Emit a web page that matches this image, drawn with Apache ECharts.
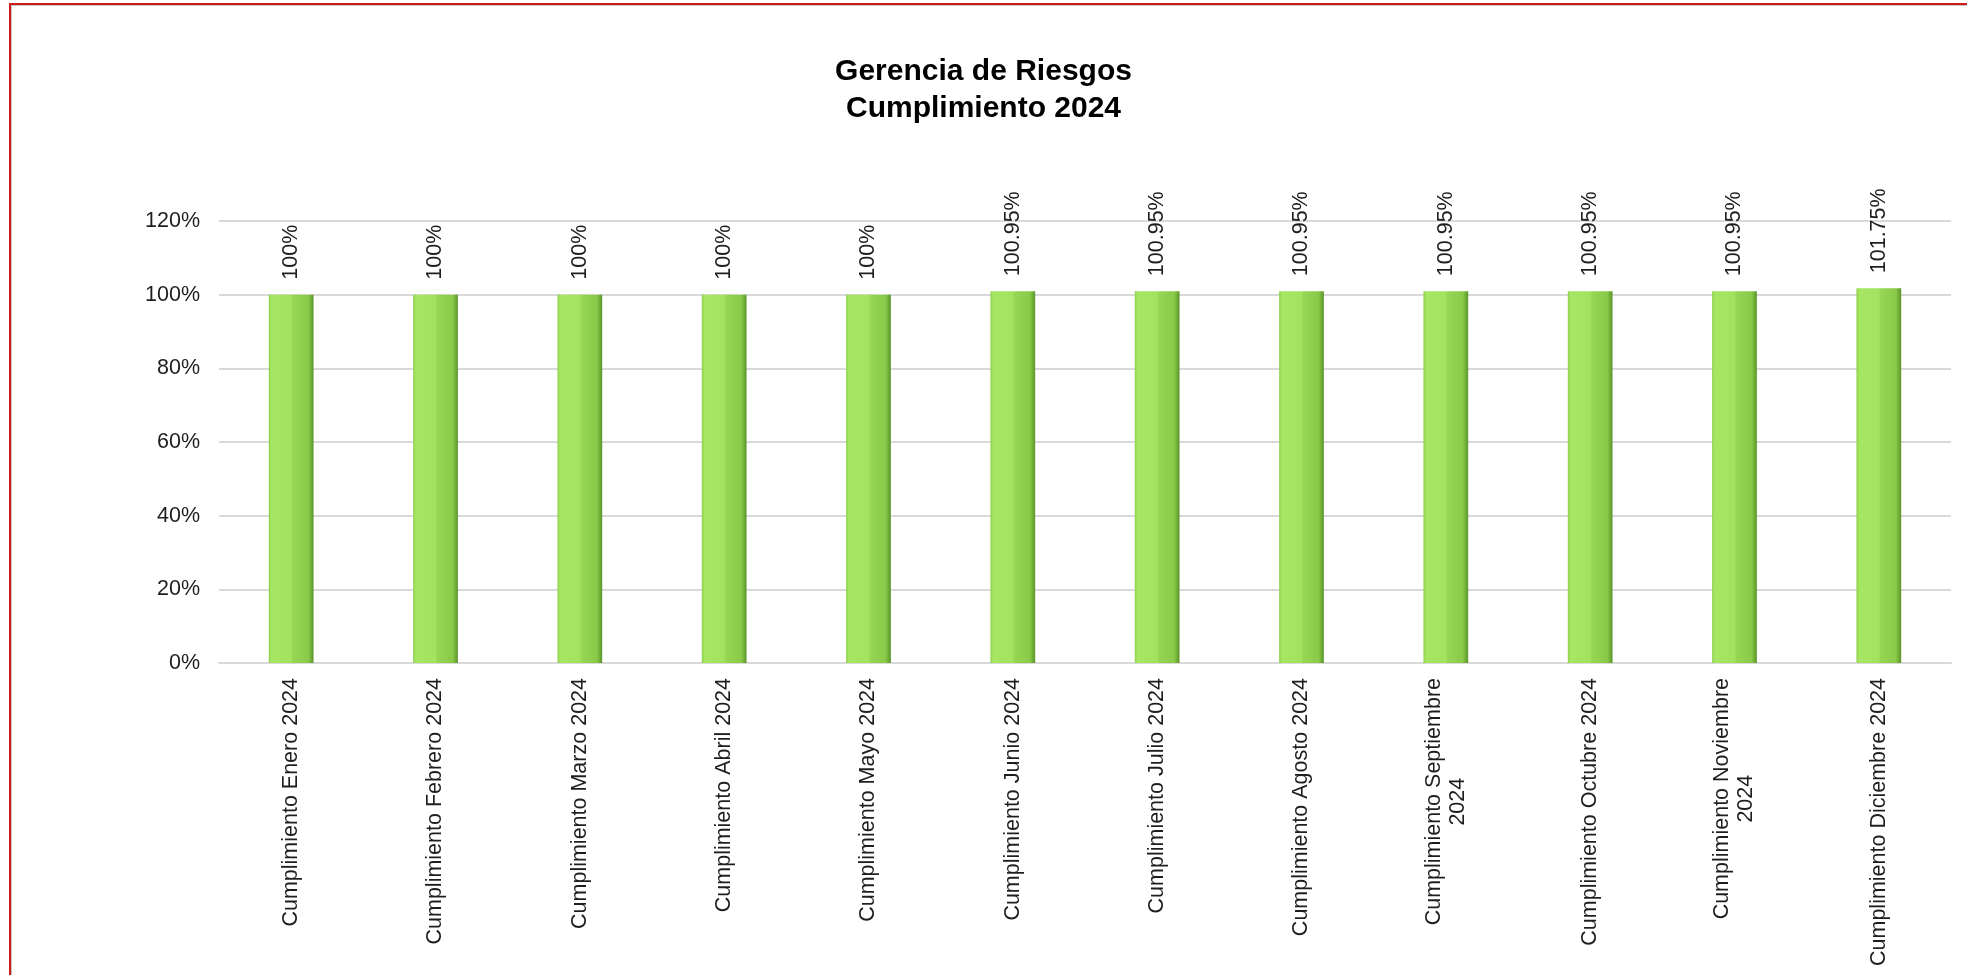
<!doctype html>
<html>
<head>
<meta charset="utf-8">
<title>Gerencia de Riesgos - Cumplimiento 2024</title>
<script src="https://cdn.jsdelivr.net/npm/echarts@6/dist/echarts.min.js"></script>
<style>
  html, body { margin: 0; padding: 0; background: #fff; overflow: hidden; }
  #marco {
    position: absolute; left: 9px; top: 3px; width: 2100px; height: 1100px;
    border-top: 2px solid #d01a1a; border-left: 2px solid #d01a1a;
    box-shadow: inset 1px 1px 0 #c8c8c8;
  }
  #chartmain { position: absolute; left: 0; top: 0; width: 1967px; height: 975px; }
</style>
</head>
<body>
<div id="marco"></div>
<div id="chartmain"></div>
<script type="text/javascript">
// categorias del eje X (los saltos de linea son como en el original)
var meses = [
  'Cumplimiento Enero 2024',
  'Cumplimiento Febrero 2024',
  'Cumplimiento Marzo 2024',
  'Cumplimiento Abril 2024',
  'Cumplimiento Mayo 2024',
  'Cumplimiento Junio 2024',
  'Cumplimiento Julio 2024',
  'Cumplimiento Agosto 2024',
  'Cumplimiento Septiembre\n2024',
  'Cumplimiento Octubre 2024',
  'Cumplimiento Noviembre\n2024',
  'Cumplimiento Diciembre 2024'
];
// cumplimiento en %
var cumplimiento = [100, 100, 100, 100, 100, 100.95, 100.95, 100.95, 100.95, 100.95, 100.95, 101.75];
var tituloLineas = ['Gerencia de Riesgos', 'Cumplimiento 2024'];

var fuente = '"Liberation Sans", Arial, sans-serif';
var colorTexto = '#1e1e1e';
var tam = 21.5;

var option = {
  animation: false,
  title: {
    text: tituloLineas.join('\n'),
    left: 'center',
    top: 48,
    textStyle: {
      fontFamily: fuente,
      fontSize: 30,
      fontWeight: 'bold',
      color: '#000',
      lineHeight: 37
    }
  },
  grid: {
    left: 219,
    right: 16,
    top: 221,
    bottom: 312
  },
  xAxis: {
    type: 'category',
    data: meses,
    axisTick: { show: false },
    axisLine: { show: true, lineStyle: { color: '#d9d9d9', width: 2 } },
    axisLabel: {
      interval: 0,
      rotate: 90,
      margin: 15,
      fontFamily: fuente,
      fontSize: tam,
      color: colorTexto,
      formatter: function (v) {
        var l = v.split('\n');
        if (l.length < 2) return v;
        return '{a|' + l[0] + '}\n{b|' + l[1] + '}';
      },
      rich: {
        a: { fontFamily: fuente, fontSize: tam, color: colorTexto, lineHeight: 24 },
        b: { fontFamily: fuente, fontSize: tam, color: colorTexto, lineHeight: 24, align: 'center' }
      }
    }
  },
  yAxis: {
    type: 'value',
    min: 0,
    max: 120,
    interval: 20,
    axisLine: { show: false },
    axisTick: { show: false },
    splitLine: { lineStyle: { color: '#d9d9d9', width: 2 } },
    axisLabel: {
      margin: 19,
      fontFamily: fuente,
      fontSize: tam,
      color: colorTexto,
      formatter: '{value}%'
    }
  },
  series: [
    {
      type: 'bar',
      data: cumplimiento,
      barWidth: '31%',
      itemStyle: {
        color: new echarts.graphic.LinearGradient(0, 0, 1, 0, [
          { offset: 0, color: '#8ccf4c' },
          { offset: 0.06, color: '#a6e663' },
          { offset: 0.5, color: '#a2e25e' },
          { offset: 0.54, color: '#95d653' },
          { offset: 0.88, color: '#89ca48' },
          { offset: 1, color: '#5a952a' }
        ])
      },
      label: {
        show: true,
        position: 'top',
        distance: 15,
        rotate: 90,
        align: 'left',
        verticalAlign: 'middle',
        fontFamily: fuente,
        fontSize: tam,
        color: colorTexto,
        formatter: function (p) { return p.value + '%'; }
      }
    }
  ]
};

var myChart = echarts.init(document.getElementById('chartmain'));
myChart.setOption(option);
</script>
</body>
</html>
